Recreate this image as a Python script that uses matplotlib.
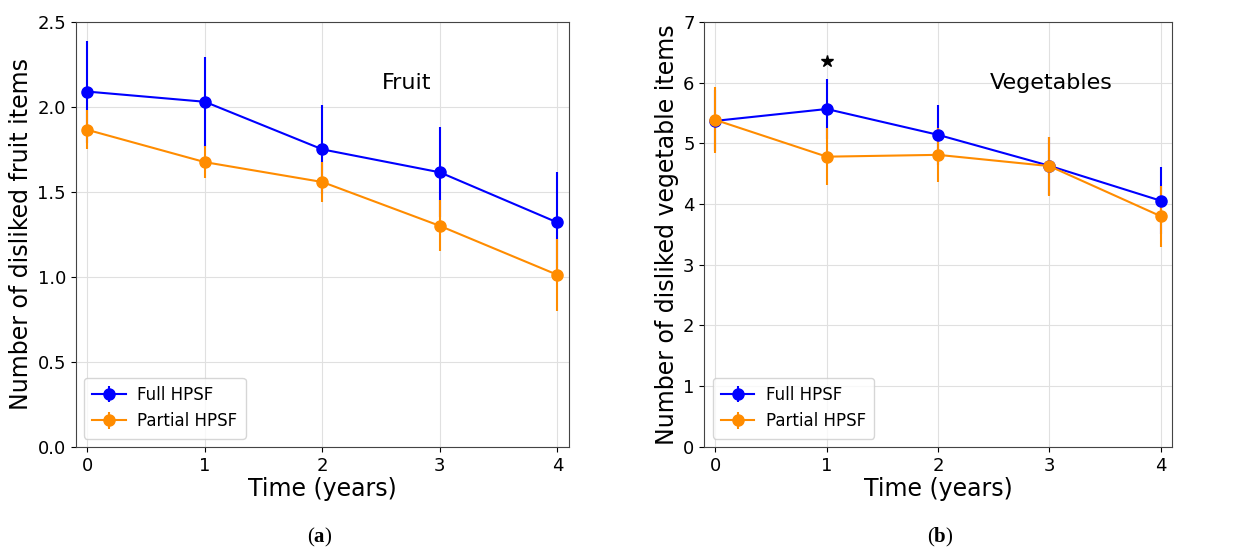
import matplotlib
matplotlib.use("Agg")
import matplotlib.pyplot as plt

# tiempo (años)
years = [0, 1, 2, 3, 4]

# (a) fruta
fruit_full = [2.09, 2.03, 1.75, 1.615, 1.32]
fruit_full_err = [0.30, 0.265, 0.26, 0.265, 0.295]
fruit_partial = [1.865, 1.675, 1.558, 1.30, 1.012]
fruit_partial_err = [0.115, 0.093, 0.12, 0.15, 0.21]

# (b) verduras
veg_full = [5.37, 5.565, 5.14, 4.63, 4.055]
veg_full_err = [0.50, 0.49, 0.49, 0.48, 0.55]
veg_partial = [5.385, 4.78, 4.81, 4.625, 3.80]
veg_partial_err = [0.54, 0.47, 0.44, 0.485, 0.50]

plt.rcParams["mathtext.fontset"] = "custom"
plt.rcParams["mathtext.rm"] = "Liberation Serif"
plt.rcParams["mathtext.bf"] = "Liberation Serif:bold"

fig = plt.figure(figsize=(12.4, 5.47), dpi=100)
ax1 = fig.add_axes([0.061, 0.183, 0.398, 0.777])
ax2 = fig.add_axes([0.568, 0.183, 0.377, 0.777])


def panel(ax, full, full_err, partial, partial_err, ylim, yticks, ylabel, title, tx, ty):
    ax.errorbar(years, full, yerr=full_err, color="blue", marker="o", markersize=8,
                linewidth=1.5, label="Full HPSF")
    ax.errorbar(years, partial, yerr=partial_err, color="darkorange", marker="o", markersize=8,
                linewidth=1.5, label="Partial HPSF")
    ax.set_xlim(-0.1, 4.1)
    ax.set_ylim(*ylim)
    ax.set_xticks(years)
    ax.set_yticks(yticks)
    ax.tick_params(labelsize=13)
    ax.grid(True, color="#e0e0e0", linewidth=0.8)
    ax.set_axisbelow(True)
    for s in ax.spines.values():
        s.set_color("#444444")
    ax.set_xlabel("Time (years)", fontsize=17, labelpad=2)
    ax.set_ylabel(ylabel, fontsize=17, labelpad=3)
    ax.text(tx, ty, title, fontsize=16, ha="center", va="center")
    ax.legend(loc="lower left", fontsize=12, borderpad=0.5, handlelength=2.0,
              handletextpad=0.7)


panel(ax1, fruit_full, fruit_full_err, fruit_partial, fruit_partial_err,
      (0, 2.5), [0.0, 0.5, 1.0, 1.5, 2.0, 2.5], "Number of disliked fruit items", "Fruit", 2.72, 2.14)
panel(ax2, veg_full, veg_full_err, veg_partial, veg_partial_err,
      (0, 7), range(0, 8), "Number of disliked vegetable items", "Vegetables", 3.02, 6.0)
ax2.plot([1], [6.36], marker="*", color="black", markersize=9, linestyle="none")

fig.text(0.258, 0.018, r"($\mathbf{a}$)", fontsize=15, ha="center", va="center", family="Liberation Serif")
fig.text(0.758, 0.018, r"($\mathbf{b}$)", fontsize=15, ha="center", va="center", family="Liberation Serif")

fig.savefig("out.png", dpi=100)
